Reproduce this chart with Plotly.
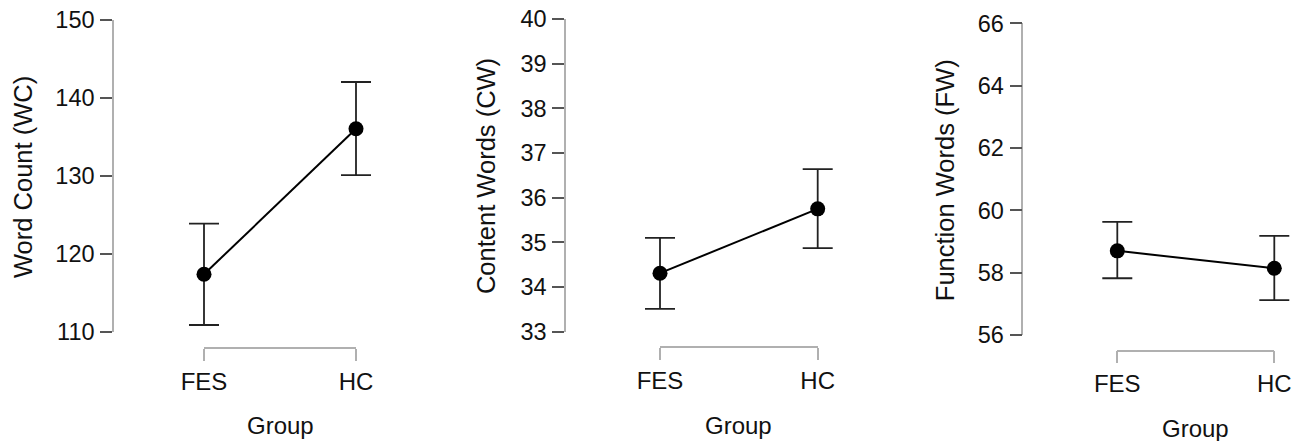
import plotly.graph_objects as go

# ---- data ----
groups = ["FES", "HC"]
titles = ["Word Count (WC)", "Content Words (CW)", "Function Words (FW)"]
wc_mean = [117.4, 136.05]
wc_lower = [110.9, 130.1]
wc_upper = [123.9, 142.05]
cw_mean = [34.31, 35.75]
cw_lower = [33.51, 34.87]
cw_upper = [35.10, 36.64]
fw_mean = [58.70, 58.14]
fw_lower = [57.82, 57.12]
fw_upper = [59.63, 59.18]
y_ranges = [[110, 150], [33, 40], [56, 66]]
y_dticks = [10, 1, 2]

means = [wc_mean, cw_mean, fw_mean]
lowers = [wc_lower, cw_lower, fw_lower]
uppers = [wc_upper, cw_upper, fw_upper]

# ---- layout geometry (pixels) ----
W, H = 1306, 441
geom = [
    dict(yline=114, ytop=20, ybot=332, fes=204, hc=356, bracket=348.3, ytx=23, gy=425),
    dict(yline=566, ytop=19, ybot=331.7, fes=660, hc=817.7, bracket=347.3, ytx=486.7, gy=425),
    dict(yline=1023.3, ytop=23.3, ybot=335, fes=1117.3, hc=1274.3, bracket=350.7, ytx=945, gy=428),
]

def PX(px):
    return px / W

def PY(py):
    return 1 - py / H

FONT = "Liberation Sans, Arial, sans-serif"
fig = go.Figure()
layout = dict(
    template="none",
    width=W, height=H, margin=dict(l=0, r=0, t=0, b=0, pad=0, autoexpand=False),
    paper_bgcolor="white", plot_bgcolor="rgba(0,0,0,0)",
    showlegend=False, font=dict(family=FONT, color="#111"),
    annotations=[],
)

for i in range(3):
    g = geom[i]
    n = i + 1
    nb = i + 4
    xs = [0, 1]
    m = means[i]
    up = [u - v for u, v in zip(uppers[i], m)]
    dn = [v - l for v, l in zip(m, lowers[i])]
    fig.add_trace(go.Scatter(
        x=xs, y=m, mode="lines+markers",
        xaxis=f"x{n}", yaxis=f"y{n}",
        line=dict(color="black", width=2),
        marker=dict(color="black", size=15),
        error_y=dict(type="data", symmetric=False, array=up, arrayminus=dn,
                     color="#222", thickness=1.8, width=15),
        cliponaxis=False, hoverinfo="skip",
    ))
    # dummy trace for the bracket axis
    fig.add_trace(go.Scatter(x=xs, y=[None, None], xaxis=f"x{nb}", yaxis=f"y{n}",
                             mode="markers", hoverinfo="skip"))

    right = min(g["hc"] + 28, W - 1)
    unit = g["hc"] - g["fes"]
    xr = [(g["yline"] - g["fes"]) / unit, (right - g["fes"]) / unit]
    layout[f"xaxis{n}"] = dict(domain=[PX(g["yline"]), PX(right)], range=xr,
                               anchor=f"y{n}", visible=False, fixedrange=True,
                               automargin=False)
    layout[f"yaxis{n}"] = dict(domain=[PY(g["ybot"]), PY(g["ytop"])], range=y_ranges[i],
                               anchor=f"x{n}", dtick=y_dticks[i], tick0=y_ranges[i][0],
                               showgrid=False, zeroline=False, automargin=False,
                               showline=True, linecolor="#b0b0b0", linewidth=1.5,
                               ticks="outside", ticklen=12, tickwidth=1.5, tickcolor="#555",
                               tickfont=dict(size=23.5, color="#111", family=FONT),
                               ticklabelstandoff=1)
    layout[f"xaxis{nb}"] = dict(domain=[PX(g["fes"]), PX(g["hc"])], range=[0, 1],
                                anchor="free", position=PY(g["bracket"]),
                                tickvals=[0, 1], ticktext=groups,
                                showgrid=False, zeroline=False, automargin=False,
                                showline=True, linecolor="#b0b0b0", linewidth=1.5,
                                ticks="outside", ticklen=12, tickwidth=1.5, tickcolor="#b0b0b0",
                                tickfont=dict(size=24, color="#111", family=FONT),
                                ticklabelstandoff=0)
    layout["annotations"].append(dict(
        text=titles[i], textangle=-90, xref="paper", yref="paper",
        x=PX(g["ytx"]), y=PY((g["ytop"] + g["ybot"]) / 2 + 1),
        xanchor="center", yanchor="middle", showarrow=False,
        font=dict(size=25.5, color="#111", family=FONT)))
    layout["annotations"].append(dict(
        text="Group", xref="paper", yref="paper",
        x=PX((g["fes"] + g["hc"]) / 2), y=PY(g["gy"]),
        xanchor="center", yanchor="middle", showarrow=False,
        font=dict(size=24, color="#111", family=FONT)))

fig.update_layout(**layout)
fig.write_html("out.html", config={"displayModeBar": False})
